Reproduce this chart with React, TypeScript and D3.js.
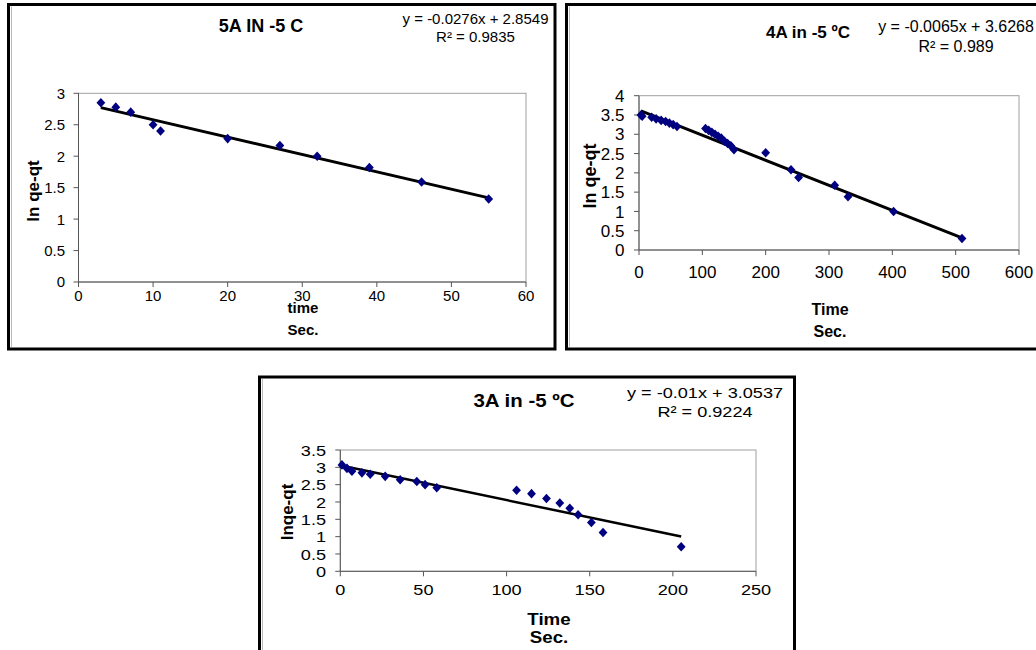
import React from "react";
import * as d3 from "d3";

// ---------- DATA ----------
const P1_TIME = [3, 5, 7, 10, 11, 20, 27, 32, 39, 46, 55];
const P1_LNQ = [2.85, 2.78, 2.7, 2.5, 2.4, 2.28, 2.17, 2.0, 1.82, 1.59, 1.32];
const P1_FIT = [-0.0276, 2.8549];
const P1_X_TICKS = [0, 10, 20, 30, 40, 50, 60];
const P1_Y_TICKS = [0, 0.5, 1, 1.5, 2, 2.5, 3];

const P2_TIME = [3, 5, 20, 27, 35, 42, 48, 54, 60, 105, 110, 115, 120, 125, 130, 135, 140, 145, 150, 200, 240, 252, 309, 330, 402, 510];
const P2_LNQ = [3.5, 3.47, 3.44, 3.4, 3.36, 3.33, 3.29, 3.25, 3.2, 3.15, 3.1, 3.05, 3.0, 2.95, 2.9, 2.82, 2.76, 2.7, 2.6, 2.52, 2.08, 1.88, 1.68, 1.38, 1.0, 0.3];
const P2_FIT = [-0.0065, 3.6268];
const P2_X_TICKS = [0, 100, 200, 300, 400, 500, 600];
const P2_Y_TICKS = [0, 0.5, 1, 1.5, 2, 2.5, 3, 3.5, 4];

const P3_TIME = [1, 4, 7, 13, 18, 27, 36, 46, 51, 58, 106, 115, 124, 132, 138, 143, 151, 158, 205];
const P3_LNQ = [3.07, 2.97, 2.89, 2.84, 2.8, 2.74, 2.64, 2.59, 2.5, 2.41, 2.34, 2.24, 2.1, 1.97, 1.82, 1.63, 1.41, 1.12, 0.71];
const P3_FIT = [-0.01, 3.0537];
const P3_X_TICKS = [0, 50, 100, 150, 200, 250];
const P3_Y_TICKS = [0, 0.5, 1, 1.5, 2, 2.5, 3, 3.5];

const TITLES = ["5A IN -5 C", "4A in -5 ºC", "3A in -5 ºC"];
const EQUATIONS = ["y = -0.0276x + 2.8549", "y = -0.0065x + 3.6268", "y = -0.01x + 3.0537"];
const R2_LABELS = ["R² = 0.9835", "R² = 0.989", "R² = 0.9224"];
const X_TITLES = [["time", "Sec."], ["Time", "Sec."], ["Time", "Sec."]];
const Y_TITLES = ["ln qe-qt", "ln qe-qt", "lnqe-qt"];

// ---------- LAYOUT ----------
const FONT = "'Liberation Sans', Arial, Helvetica, sans-serif";

const PANELS = [
  {
    x: P1_TIME, y: P1_LNQ, fit: P1_FIT, xTicks: P1_X_TICKS, yTicks: P1_Y_TICKS,
    title: TITLES[0], eq: EQUATIONS[0], r2: R2_LABELS[0], xTitle: X_TITLES[0], yTitle: Y_TITLES[0],
    border: { x: 8.5, y: 4.5, w: 546.5, h: 344.5 },
    plot: { l: 78.5, r: 526, t: 93.3, b: 282 },
    titlePos: [261, 32], eqPos: [475.5, 24], r2Y: 41.7,
    xTitleX: 303, xTitleY: [312.7, 335], yTitlePos: [39, 191],
    xLabY: 301, yLabX: 65, tickFs: 15, eqFs: 15, titleFs: 18, axFs: 15, yAxFs: 17, lw: 3, sx: 1,
  },
  {
    x: P2_TIME, y: P2_LNQ, fit: P2_FIT, xTicks: P2_X_TICKS, yTicks: P2_Y_TICKS,
    title: TITLES[1], eq: EQUATIONS[1], r2: R2_LABELS[1], xTitle: X_TITLES[1], yTitle: Y_TITLES[1],
    border: { x: 566.5, y: 4.5, w: 480, h: 344.5 },
    plot: { l: 639, r: 1019, t: 95.7, b: 250 },
    titlePos: [808, 38.3], eqPos: [956, 32], r2Y: 52,
    xTitleX: 830, xTitleY: [315, 336.7], yTitlePos: [596, 176],
    xLabY: 278, yLabX: 624.5, tickFs: 17, eqFs: 16, titleFs: 17, axFs: 16, yAxFs: 18, lw: 3, sx: 1,
  },
  {
    x: P3_TIME, y: P3_LNQ, fit: P3_FIT, xTicks: P3_X_TICKS, yTicks: P3_Y_TICKS,
    title: TITLES[2], eq: EQUATIONS[2], r2: R2_LABELS[2], xTitle: X_TITLES[2], yTitle: Y_TITLES[2],
    border: { x: 259.5, y: 377, w: 535, h: 300 },
    plot: { l: 340.3, r: 756, t: 450, b: 571.3 },
    titlePos: [524, 406.7], eqPos: [705, 398], r2Y: 416.7,
    xTitleX: 549, xTitleY: [625, 643], yTitlePos: [293, 512],
    xLabY: 595, yLabX: 326, tickFs: 15.5, eqFs: 15.5, titleFs: 17.5, axFs: 16, yAxFs: 17, lw: 2.5, sx: 1.17,
  },
];

const diamond = "M0,-4.8L4.4,0L0,4.8L-4.4,0Z";

function T({ x, y, sx, anchor = "middle", fs, bold = false, dy, children }: any) {
  return (
    <text
      transform={`translate(${x},${y}) scale(${sx},1)`}
      dy={dy}
      textAnchor={anchor}
      fontSize={fs}
      fontWeight={bold ? "bold" : "normal"}
      fontFamily={FONT}
      fill="#000"
    >
      {children}
    </text>
  );
}

function Panel({ p }: { p: any }) {
  const xMax = p.xTicks[p.xTicks.length - 1];
  const yMax = p.yTicks[p.yTicks.length - 1];
  const xs = d3.scaleLinear().domain([0, xMax]).range([p.plot.l, p.plot.r]);
  const ys = d3.scaleLinear().domain([0, yMax]).range([p.plot.b, p.plot.t]);
  const xExt = d3.extent(p.x as number[]) as [number, number];
  const fitPts: [number, number][] = xExt.map((t) => [t, p.fit[0] * t + p.fit[1]]);
  const line = d3.line<[number, number]>().x((d) => xs(d[0])).y((d) => ys(d[1]));
  const fmt = (v: number) => String(v);
  return (
    <g>
      <rect x={p.border.x} y={p.border.y} width={p.border.w} height={p.border.h} fill="#fff" stroke="#000" strokeWidth={3} />
      <line x1={p.border.x + 3} x2={p.border.x + 3} y1={p.border.y + 2} y2={p.border.y + p.border.h - 2} stroke="#bbb" strokeWidth={1} />
      <rect x={p.plot.l} y={p.plot.t} width={p.plot.r - p.plot.l} height={p.plot.b - p.plot.t} fill="#fff" stroke="#a0a0a0" strokeWidth={1} />
      <line x1={p.plot.l} x2={p.plot.l} y1={p.plot.t} y2={p.plot.b} stroke="#555" strokeWidth={1} />
      <line x1={p.plot.l} x2={p.plot.r} y1={p.plot.b} y2={p.plot.b} stroke="#555" strokeWidth={1} />
      {p.yTicks.map((v: number) => (
        <g key={"y" + v}>
          <line x1={p.plot.l - 5} x2={p.plot.l} y1={ys(v)} y2={ys(v)} stroke="#555" />
          <T x={p.yLabX} y={ys(v)} dy="0.36em" anchor="end" fs={p.tickFs} sx={p.sx}>{fmt(v)}</T>
        </g>
      ))}
      {p.xTicks.map((v: number) => (
        <g key={"x" + v}>
          <line x1={xs(v)} x2={xs(v)} y1={p.plot.b} y2={p.plot.b + 5} stroke="#555" />
          <T x={xs(v)} y={p.xLabY} fs={p.tickFs} sx={p.sx}>{fmt(v)}</T>
        </g>
      ))}
      <path d={line(fitPts) || ""} stroke="#000" strokeWidth={p.lw} fill="none" />
      {p.x.map((t: number, i: number) => (
        <path key={i} d={diamond} transform={`translate(${xs(t)},${ys(p.y[i])})`} fill="#000080" />
      ))}
      <T x={p.titlePos[0]} y={p.titlePos[1]} fs={p.titleFs} bold sx={p.sx}>{p.title}</T>
      <T x={p.eqPos[0]} y={p.eqPos[1]} fs={p.eqFs} sx={p.sx}>{p.eq}</T>
      <T x={p.eqPos[0]} y={p.r2Y} fs={p.eqFs} sx={p.sx}>{p.r2}</T>
      <T x={p.xTitleX} y={p.xTitleY[0]} fs={p.axFs} bold sx={p.sx}>{p.xTitle[0]}</T>
      <T x={p.xTitleX} y={p.xTitleY[1]} fs={p.axFs} bold sx={p.sx}>{p.xTitle[1]}</T>
      <text transform={`translate(${p.yTitlePos[0]},${p.yTitlePos[1]}) rotate(-90)`} textAnchor="middle" fontSize={p.yAxFs} fontWeight="bold" fontFamily={FONT}>{p.yTitle}</text>
    </g>
  );
}

export default function App() {
  return (
    <svg width={1036} height={650} style={{ position: "absolute", left: 0, top: 0, background: "#fff" }}>
      <rect x={0} y={0} width={1036} height={650} fill="#fff" />
      {PANELS.map((p, i) => (
        <Panel key={i} p={p} />
      ))}
    </svg>
  );
}
